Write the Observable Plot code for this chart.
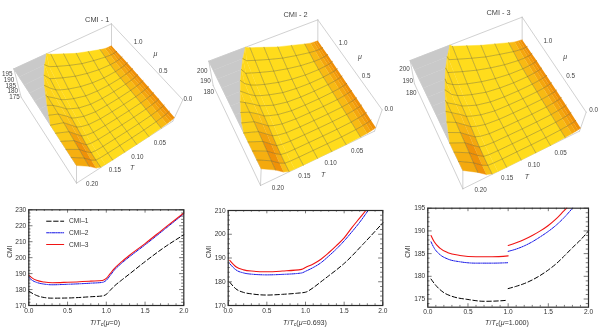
<!DOCTYPE html>
<html><head><meta charset="utf-8">
<script src="https://cdn.jsdelivr.net/npm/d3@7"></script>
<script src="https://cdn.jsdelivr.net/npm/@observablehq/plot@0.6"></script>
<style>
html,body{margin:0;padding:0;background:#fff;overflow:hidden}
#root{position:relative;width:599px;height:330px;font-family:"Liberation Sans",Arial,sans-serif;overflow:hidden;filter:blur(.3px)}
#root svg{position:absolute;background:transparent;max-width:none}
.xl{position:absolute;font-size:7.1px;color:#333;white-space:nowrap;transform:translateX(-50%)}
.xl sub{font-size:5.2px;vertical-align:-1px;line-height:0}
</style></head><body><div id="root"></div>
<script>
// ---------- 3D surface: CMI estimated on grid (T, mu), z-scale of panel CMI-1
const gridT = [0,.004,.008,.014,.025,.05,.075,.1,.125,.14,.15,.16,.175,.2];
const gridMu = [0,.1,.2,.3,.4,.5,.6,.7,.8,.9,1,1.1,1.2];
const surface = [
 [179,178,177.5,176.8,176,175.2,175,175,175,175.2,175.6,178.5,187,198],
 [179,178,177.5,176.8,176,175.2,175,175,175,175.2,175.8,179.5,188,199],
 [179,178,177.5,176.8,176,175.2,175,175,175,175.3,176.5,181,189.5,199],
 [179,178,177.5,176.8,176,175.2,175,175,175.2,176,177.5,182.5,191,199],
 [178.9,177.9,177.4,176.7,175.9,175.2,175,175,175.5,177.2,179.5,184.5,192.5,199],
 [178.8,177.8,177.3,176.6,175.8,175.2,175,175.1,176.5,179,181.5,186.5,194,199],
 [178.6,177.7,177.2,176.5,175.8,175.1,175,175.4,178,181,183.5,188.5,195,199],
 [178.4,177.5,177,176.4,175.7,175.1,175.2,176.3,179.5,183,185.5,190,196,199],
 [178.2,177.3,176.8,176.3,175.6,175.3,176.1,178,182,185,187.5,191.5,197,199],
 [178,177,176.6,176.2,175.7,176,177.7,180.5,184.5,187.5,190,194,198,199],
 [177.6,176.8,176.5,176.2,176.3,177.8,180.5,184,188.5,191.5,193.5,196.5,199,199],
 [177,176.7,176.6,176.8,177.6,180.4,183.5,187.8,192.5,195.5,197,198.5,199,199],
 [176.5,176.6,176.8,177.2,178.8,183,187,192,197,199,199,199,199,199]
];
const zLow = 175, zHigh = 199;
const meshT = [.025,.05,.075,.1,.125,.15,.175];
const meshMu = [.1,.2,.3,.4,.5,.6,.7,.8,.9,1,1.1];
const clip1 = [.2,.2,.2,.2,.2,.2,.193,.186,.178,.17,.16,.148,.133];
const clip2 = [.2,.2,.2,.2,.2,.196,.19,.183,.175,.167,.157,.146,.133];
const clip3 = [.2,.2,.2,.2,.195,.19,.184,.177,.17,.162,.153,.142,.129];
const tTicks = [.05,.1,.15,.2];
const muTicks = [0,.5,1];
const zTicks1 = [175,180,185,190,195];
const zTicks23 = [180,190,200];
const titles3d = ["CMI - 1","CMI - 2","CMI - 3"];

// view of each box (3x px); order of corners: [T0 mu0, T.2 mu0, T0 mu1.2, T.2 mu1.2]
const views = [
 {ox:0,high:[[547,298],[228,495],[333,70],[40,205]],low:[[517,362],[228,548],[333,140],[62,290]],
  clip:clip1,tLab:[[546,387],[275,550]],muLab:[[562,295],[413,125]],zLab:[175,195,[42,290],[20,220]],zTicks:zTicks1,
  tT:[395,503],tMu:[465,160],title:[290,57]},
 {ox:200,high:[[545,328],[182,505],[352,58],[25,182]],low:[[522,392],[180,555],[352,125],[38,255]],
  clip:clip2,tLab:[[549,415],[232,562]],muLab:[[565,325],[428,127]],zLab:[180,200,[25,275],[5,210]],zTicks:zTicks23,
  tT:[368,522],tMu:[478,170],title:[285,43]},
 {ox:399,high:[[560,335],[190,510],[368,50],[32,180]],low:[[540,392],[190,565],[368,122],[45,250]],
  clip:clip3,tLab:[[563,420],[243,568]],muLab:[[582,328],[445,122]],zLab:[180,200,[35,277],[15,205]],zTicks:zTicks23,
  tT:[382,528],tMu:[497,168],title:[297,37]}
];
const lerp=(a,b,s)=>a+(b-a)*s;
const lerp2=(a,b,s)=>[lerp(a[0],b[0],s),lerp(a[1],b[1],s)];
function proj(v,T,mu,t){
  const u=T/.2, w=mu/1.2;
  const bil=c=>lerp2(lerp2(c[0],c[1],u),lerp2(c[2],c[3],u),w);
  const p=lerp2(bil(v.low),bil(v.high),t);
  return [v.ox+p[0]/3,p[1]/3];
}
const yellow="#ffdc1c", orange="#ee8a06";
const shadeColor=d3.interpolateRgb(yellow,orange);

const polys=[], gray=[], meshLines=[], boxLines=[], texts=[];
views.forEach((v,vi)=>{
  const at=(i,j)=>{const cl=v.clip[j],T=gridT[i];
    return T>=cl?[cl,gridMu[j],1]:[T,gridMu[j],(surface[j][i]-zLow)/(zHigh-zLow)];};
  const push=(arr,id,pts,extra)=>pts.forEach(p=>{const q=proj(v,p[0],p[1],p[2]);arr.push({id:vi+"-"+id,px:q[0],py:q[1],...extra});});
  for(let j=0;j<gridMu.length-1;j++){
    push(gray,"g"+j,[[v.clip[j],gridMu[j],1],[.2,gridMu[j],1],[.2,gridMu[j+1],1],[v.clip[j+1],gridMu[j+1],1]],{});
    for(let i=0;i<gridT.length-1;i++){
      const a=at(i,j),b=at(i+1,j),c=at(i+1,j+1),d=at(i,j+1);
      if(a[0]===b[0]&&c[0]===d[0]) continue;
      const dT=gridT[i+1]-gridT[i];
      const s=((surface[j][i+1]-surface[j][i])+(surface[j+1][i+1]-surface[j+1][i]))/2/dT;
      const m=(gridMu[j]+gridMu[j+1])/2, T=(gridT[i]+gridT[i+1])/2;
      const fall=Math.pow(Math.max(0,(.04-T)/.04),1.3);
      const rise=Math.max(0,(s-180)/420)*Math.max(0,Math.min(1,1.5-m*1.9));
      const amber=Math.max(0,T-.125)*2.6;
      const sh=Math.min(1,Math.max(fall,rise,amber));
      push(polys,j+"_"+i,[a,b,c,d],{c:shadeColor(sh)});
    }
  }
  meshT.forEach((T,k)=>{
    const i=gridT.findIndex(x=>Math.abs(x-T)<1e-6);
    const pts=[];
    gridMu.forEach((m,j)=>{ if(T<v.clip[j]) pts.push(at(i,j)); });
    push(meshLines,"t"+k,pts,{});
  });
  meshMu.forEach((M,k)=>{
    const j=gridMu.findIndex(x=>Math.abs(x-M)<1e-6);
    push(meshLines,"m"+k,gridT.map((T,i)=>at(i,j)),{});
  });
  const edges=[[[.2,1.2,1],[0,1.2,1]],[[0,1.2,1],[0,0,1]],[[.2,1.2,1],[.2,0,1]],
    [[.2,1.2,0],[.2,0,0]],[[.2,0,0],[0,0,0]],[[0,0,0],[0,0,1]],[[.2,0,0],[.2,0,1]],[[.2,1.2,0],[.2,1.2,1]],[[0,1.2,0],[0,1.2,1]]];
  edges.forEach((e,k)=>push(boxLines,"b"+k,e,{}));
  const add=(p,text,o={})=>texts.push({px:v.ox+p[0]/3,py:p[1]/3,text,size:o.size||6.3,it:o.it||false});
  tTicks.forEach(T=>add(lerp2(v.tLab[0],v.tLab[1],T/.2),d3.format(".2f")(T)));
  muTicks.forEach(m=>add(lerp2(v.muLab[0],v.muLab[1],m),d3.format(".1f")(m)));
  v.zTicks.forEach(z=>add(lerp2(v.zLab[2],v.zLab[3],(z-v.zLab[0])/(v.zLab[1]-v.zLab[0])),String(z)));
  add(v.tT,"T",{it:true,size:7}); add(v.tMu,"μ",{it:true,size:7});
  add(v.title,titles3d[vi],{size:7.4});
});

const root=document.getElementById("root");
const p3=Plot.plot({
  width:599,height:195,margin:0,
  x:{domain:[0,599],range:[0,599],axis:null},
  y:{domain:[0,195],range:[0,195],axis:null},
  color:{type:"identity"},
  style:{background:"transparent"},
  marks:[
    Plot.line(boxLines,{x:"px",y:"py",z:"id",stroke:"#bdbdbd",strokeWidth:.7}),
    Plot.line(gray,{x:"px",y:"py",z:"id",fill:"#c9c9c9",stroke:"#c9c9c9",strokeWidth:.4}),
    Plot.line(polys,{x:"px",y:"py",z:"id",fill:d=>d.c,stroke:d=>d.c,strokeWidth:.4}),
    Plot.line(meshLines,{x:"px",y:"py",z:"id",stroke:"#5f5a30",strokeWidth:.55,strokeOpacity:.7}),
    Plot.text(texts.filter(d=>!d.it),{x:"px",y:"py",text:"text",fontSize:"size",fill:"#444",fontFamily:"Liberation Sans"}),
    Plot.text(texts.filter(d=>d.it),{x:"px",y:"py",text:"text",fontSize:"size",fontStyle:"italic",fill:"#444",fontFamily:"Liberation Sans"})
  ]
});
p3.style.left="0";p3.style.top="0";root.appendChild(p3);

// ---------- 2D curves: [T/Tc, CMI]
const a1=[[0,179],[.05,177.5],[.1,176.3],[.2,175],[.3,174.6],[.5,174.7],[.8,175.5],[.95,176],[1,177],[1.05,179.5],[1.1,182],[1.2,186],[1.3,189.8],[1.5,197.5],[1.75,206.5],[2,214.3]];
const a2=[[0,187.7],[.05,185.6],[.1,184.5],[.2,183.4],[.3,183],[.5,183.3],[.8,184],[.95,184.5],[1,185.8],[1.05,188.8],[1.1,192],[1.2,196.6],[1.3,200.6],[1.5,208],[1.75,217.7],[2,227.5]];
const a3=[[0,189],[.05,187],[.1,185.8],[.2,184.7],[.3,184.3],[.5,184.6],[.8,185.3],[.95,185.7],[1,187],[1.05,190],[1.1,193],[1.2,197.5],[1.3,201.5],[1.5,208.8],[1.75,218.5],[2,228]];
const b1=[[.02,179.8],[.1,177],[.2,175.5],[.3,174.9],[.5,174.4],[.7,174.7],[.9,175.2],[1,175.6],[1.1,177.5],[1.2,180],[1.3,182.5],[1.4,185],[1.5,187.7],[1.75,196],[2,204.8]];
const b2=[[.02,187.6],[.1,185],[.2,183.7],[.3,183.2],[.5,182.9],[.7,183.1],[.95,183.7],[1,184.4],[1.1,186],[1.2,188],[1.3,190.8],[1.4,193.8],[1.5,197.2],[1.6,201],[1.7,205],[1.81,210]];
const b3=[[.02,189],[.1,186.3],[.2,185],[.3,184.5],[.5,184.2],[.7,184.5],[.95,185.2],[1,186],[1.1,187.5],[1.2,189.5],[1.3,192.2],[1.4,195.2],[1.5,198.5],[1.6,202.8],[1.7,206.8],[1.78,210]];
const c1a=[[.04,179.4],[.1,178],[.2,176.4],[.3,175.6],[.5,174.9],[.7,174.5],[.9,174.6],[.97,174.7]];
const c1b=[[1,177.3],[1.1,177.8],[1.2,178.4],[1.3,179.2],[1.4,180.2],[1.5,181.4],[1.6,182.8],[1.7,184.5],[1.8,186.3],[1.9,188],[2,190]];
const c2a=[[.04,187.6],[.08,186.2],[.15,184.8],[.25,183.8],[.4,183.2],[.6,182.9],[.8,182.9],[1,183]];
const c2b=[[1,185.5],[1.1,186],[1.2,186.7],[1.3,187.6],[1.4,188.7],[1.5,189.9],[1.6,191.3],[1.7,193],[1.8,195]];
const c3a=[[.04,189],[.08,187.6],[.15,186.2],[.25,185.2],[.4,184.6],[.6,184.3],[.8,184.3],[1,184.5]];
const c3b=[[1,186.8],[1.1,187.4],[1.2,188.1],[1.3,189],[1.4,190],[1.5,191.2],[1.6,192.7],[1.7,194.5],[1.73,195]];
const xTicks=[0,.5,1,1.5,2];
const xMinor=[.1,.2,.3,.4,.6,.7,.8,.9,1.1,1.2,1.3,1.4,1.6,1.7,1.8,1.9];
const legendNames=["CMI\u20131","CMI\u20132","CMI\u20133"];
const styles=[{stroke:"#000",strokeWidth:1,strokeDasharray:"4.5 2.5"},
              {stroke:"#1414e6",strokeWidth:1,strokeDasharray:"2.5 1 1 1"},
              {stroke:"#f01414",strokeWidth:1.1}];

function panel2d(o){
  const [lo,hi]=o.yDomain, span=hi-lo;
  const tick=(vals,frac,axis)=>{
    if(axis==="x") return [
      Plot.ruleX(vals,{x:d=>d,y1:lo,y2:lo+span*frac,stroke:"#222",strokeWidth:.6}),
      Plot.ruleX(vals,{x:d=>d,y1:hi,y2:hi-span*frac,stroke:"#222",strokeWidth:.6})];
    return [
      Plot.ruleY(vals,{y:d=>d,x1:0,x2:2*frac,stroke:"#222",strokeWidth:.6}),
      Plot.ruleY(vals,{y:d=>d,x1:2,x2:2-2*frac,stroke:"#222",strokeWidth:.6})];
  };
  const lines=o.series.flatMap((segs,si)=>segs.map(seg=>
    Plot.line(seg,{x:d=>d[0],y:d=>d[1],curve:"monotone-x",...styles[si]})));
  const svg=Plot.plot({
    width:o.w,height:o.h,marginLeft:o.ml,marginRight:o.mr,marginTop:o.mt,marginBottom:o.mb,
    x:{domain:[0,2],axis:null},
    y:{domain:o.yDomain,axis:null},
    style:{background:"transparent",fontFamily:"Liberation Sans"},
    marks:[
      ...lines,
      ...tick(xTicks,.035,"x"),...tick(xMinor,.018,"x"),
      ...tick(o.yMajor,.027,"y"),...tick(o.yMinor,.014,"y"),
      Plot.frame({stroke:"#2a2a2a",strokeWidth:1.2}),
      Plot.axisX(xTicks,{tickSize:0,tickPadding:2.5,fontSize:6.6,fill:"#333",tickFormat:d3.format(".1f"),label:null}),
      Plot.axisY(o.yMajor,{tickSize:0,tickPadding:2.5,fontSize:6.6,fill:"#333",tickFormat:d=>String(d),label:null}),
      Plot.text(["CMI"],{frameAnchor:"left",dx:o.yLabelDx,rotate:-90,fontSize:6.6,fill:"#333"}),
      ...(o.legend?o.legend.flatMap((y,i)=>[
        Plot.line([[.23,y],[.45,y]],{x:d=>d[0],y:d=>d[1],...styles[i]}),
        Plot.text([legendNames[i]],{x:.52,y:y,textAnchor:"start",fontSize:6.6,fill:"#333"})]):[])
    ]
  });
  svg.style.left=o.left+"px";svg.style.top=o.top+"px";root.appendChild(svg);
  const d=document.createElement("div");d.className="xl";
  d.style.left=o.labelX+"px";d.style.top=o.labelY+"px";
  d.innerHTML="<i>T</i>/<i>T</i><sub>c</sub>(<i>μ</i>="+o.mu+")";
  root.appendChild(d);
}
const range=(a,b,s,skip)=>d3.range(a,b+1e-9,s).filter(v=>Math.abs(v%skip)>1e-9&&Math.abs(v%skip-skip)>1e-9);
panel2d({left:0,top:195,w:199,h:135,ml:28.3,mr:15.7,mt:14.3,mb:25,yDomain:[170,230],
  yMajor:d3.range(170,231,10),yMinor:range(170,230,2,10),series:[[a1],[a2],[a3]],
  legend:[222.85,215.6,208.2],yLabelDx:-19,labelX:105,labelY:319,mu:"0"});
panel2d({left:199,top:195,w:199,h:135,ml:28.7,mr:15.7,mt:15,mb:25,yDomain:[170,210],
  yMajor:d3.range(170,211,10),yMinor:range(170,210,2,10),series:[[b1],[b2],[b3]],
  yLabelDx:-19,labelX:305,labelY:319,mu:"0.693"});
panel2d({left:398,top:195,w:201,h:135,ml:29.3,mr:11,mt:12.7,mb:23.3,yDomain:[173.2,195],
  yMajor:[175,180,185,190,195],yMinor:range(174,195,1,5),series:[[c1a,c1b],[c2a,c2b],[c3a,c3b]],
  yLabelDx:-20,labelX:507,labelY:319,mu:"1.000"});
</script></body></html>
